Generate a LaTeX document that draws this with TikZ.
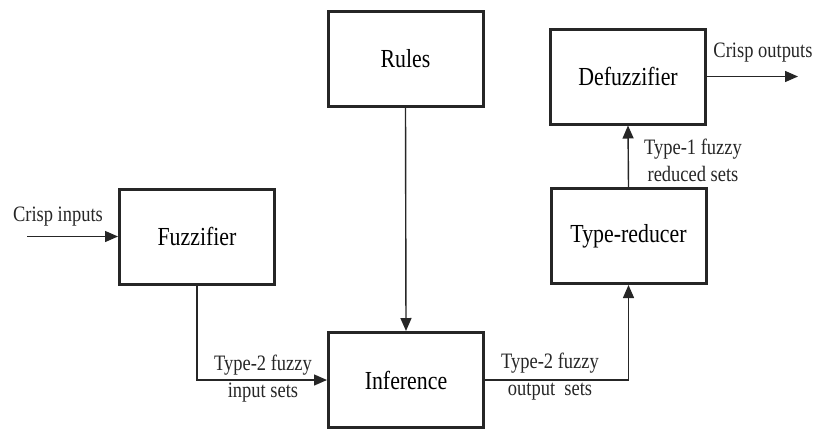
\documentclass[tikz,border=0pt]{standalone}
\usepackage{fontspec}
\setmainfont[FakeStretch=0.84]{Liberation Serif}
\usetikzlibrary{arrows.meta}
\begin{document}
\begin{tikzpicture}[x=1pt,y=-1pt,
  block/.style={draw=black!85,line width=3pt,minimum width=155pt,minimum height=95pt,inner sep=0pt,font=\fontsize{26}{30}\selectfont},
  conn/.style={draw=black!85,line width=1.4pt,-{Triangle[length=13pt,width=11pt]}},
  lbl/.style={font=\fontsize{22}{27}\selectfont,align=center,inner sep=0pt,text=black!85}]
\useasboundingbox (0,0) rectangle (813,429);
\node[block] (rules) at (405.5,58.5) {Rules};
\node[block] (def) at (628,76.5) {Defuzzifier};
\node[block] (fuz) at (197,236.5) {Fuzzifier};
\node[block] (tr) at (628.5,236) {Type-reducer};
\node[block] (inf) at (406,380) {Inference};
\coordinate (cin) at (27,236.5);
\coordinate (cout) at (798,76.5);
\draw[conn] (cin) -- (fuz.west);
\draw[conn] (fuz.south) |- (inf.west);
\draw[conn] (rules.south) -- (inf.north);
\draw[conn] (inf.east) -| (tr.south);
\draw[conn] (tr.north) -- (def.south);
\draw[conn] (def.east) -- (cout);
\node[lbl] (l1) at (58,217) {Crisp inputs};
\node[lbl] (l2) at (263,379) {Type-2 fuzzy\\input sets};
\node[lbl] (l3) at (550,377) {Type-2 fuzzy\\output\ \ sets};
\node[lbl] (l4) at (693,160) {Type-1 fuzzy\\reduced sets};
\node[lbl] (l5) at (763,53) {Crisp outputs};
\end{tikzpicture}
\end{document}
